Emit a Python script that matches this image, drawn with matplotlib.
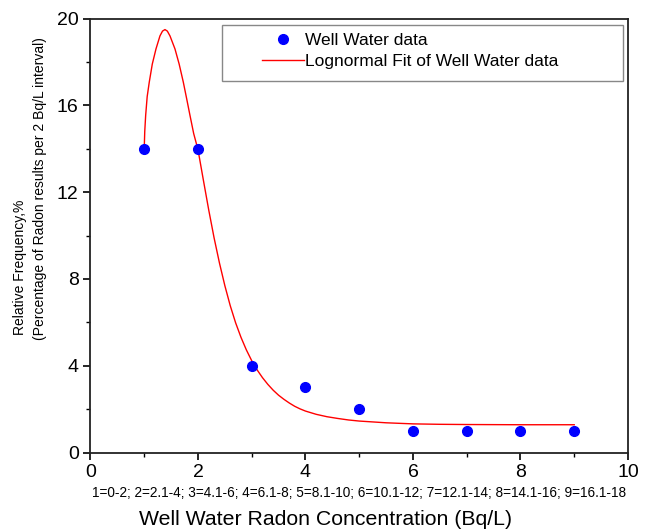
import matplotlib
matplotlib.use("Agg")
import matplotlib.pyplot as plt
from matplotlib.ticker import MultipleLocator
from matplotlib.patches import Rectangle

plt.rcParams['font.family'] = ['Liberation Sans', 'DejaVu Sans']

# Data points
x_data = [1, 2, 3, 4, 5, 6, 7, 8, 9]
y_data = [14, 14, 4, 3, 2, 1, 1, 1, 1]

# Lognormal fit curve
x_fit = [1.000, 1.010, 1.027, 1.055, 1.094, 1.150, 1.219, 1.293, 1.340, 1.386,
         1.430, 1.479, 1.572, 1.650, 1.727, 1.790, 1.851, 1.920, 2.000, 2.100,
         2.200, 2.300, 2.400, 2.500, 2.600, 2.700, 2.800, 2.900, 3.000, 3.100,
         3.200, 3.300, 3.400, 3.500, 3.600, 3.700, 3.800, 3.900, 4.000, 4.200,
         4.400, 4.600, 4.800, 5.000, 5.500, 6.000, 6.500, 7.000, 8.000, 9.000]
y_fit = [14.00, 14.80, 15.54, 16.40, 17.07, 17.90, 18.60, 19.20, 19.42, 19.49,
         19.42, 19.20, 18.60, 17.90, 17.07, 16.30, 15.54, 14.70, 13.96, 12.56,
         11.18, 9.89, 8.73, 7.69, 6.77, 5.98, 5.31, 4.73, 4.23, 3.81,
         3.45, 3.14, 2.87, 2.64, 2.45, 2.28, 2.13, 2.01, 1.91, 1.76,
         1.65, 1.57, 1.50, 1.45, 1.37, 1.32, 1.30, 1.29, 1.28, 1.28]

fig = plt.figure(figsize=(6.49, 5.32), dpi=100)
ax = fig.add_axes([0.1394, 0.1494, 0.9676 - 0.1394, 0.9652 - 0.1494])

ax.plot(x_data, y_data, 'o', color='#0000ff', markersize=7, label='Well Water data', zorder=3)
ax.plot(x_fit, y_fit, '-', color='#ff0000', linewidth=1.0, label='Lognormal Fit of Well Water data', zorder=2)

ax.set_xlim(0, 10)
ax.set_ylim(0, 20)
ax.xaxis.set_major_locator(MultipleLocator(2))
ax.xaxis.set_minor_locator(MultipleLocator(1))
ax.yaxis.set_major_locator(MultipleLocator(4))
ax.yaxis.set_minor_locator(MultipleLocator(2))
ax.tick_params(which='major', direction='out', length=5, width=1.2, labelsize=14, colors='black')
ax.tick_params(which='minor', direction='out', length=3, width=1.0)
for s in ax.spines.values():
    s.set_linewidth(1.3)
    s.set_color('#222222')

# axis texts
fig.text(0.553, 0.0733, '1=0-2; 2=2.1-4; 3=4.1-6; 4=6.1-8; 5=8.1-10; 6=10.1-12; 7=12.1-14; 8=14.1-16; 9=16.1-18',
         ha='center', va='center', fontsize=9.8)
fig.text(0.502, 0.0244, 'Well Water Radon Concentration (Bq/L)', ha='center', va='center', fontsize=15.3)
fig.text(20 / 649, 1 - 335 / 532, 'Relative Frequency,%', rotation=90, ha='center', va='bottom',
         fontsize=10, rotation_mode='default')
fig.text(40 / 649, 1 - 340 / 532, '(Percentage of Radon results per 2 Bq/L interval)', rotation=90,
         ha='center', va='bottom', fontsize=10)

# legend frame and entries
frame = Rectangle((0.2447, 0.856), 0.9907 - 0.2447, 0.985 - 0.856, transform=ax.transAxes,
                  facecolor='white', edgecolor='#888888', linewidth=1.0, zorder=4)
ax.add_patch(frame)
leg = ax.legend(loc='upper left', bbox_to_anchor=(0.319, 0.966), fontsize=12.5, frameon=False,
                handlelength=2.4, borderpad=0.0, borderaxespad=0.0,
                labelspacing=0.3, handletextpad=0.1)
leg.set_zorder(5)

fig.savefig('out.png', dpi=100)
